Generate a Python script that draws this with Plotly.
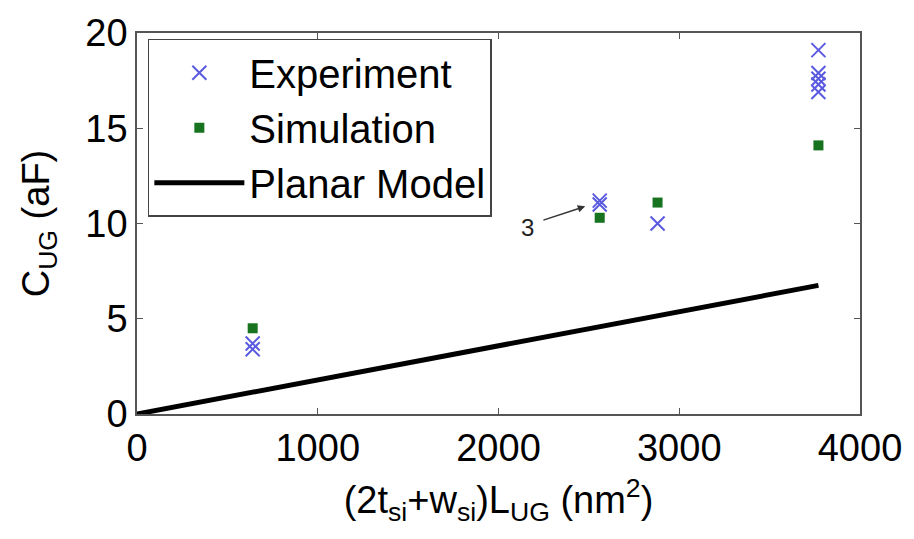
import plotly.graph_objects as go

exp_x = [640, 640, 2560, 2560, 2880, 3770, 3770, 3770, 3770, 3770]
exp_y = [3.7, 3.4, 11.2, 11.0, 10.0, 19.1, 17.9, 17.6, 17.3, 16.9]
sim_x = [640, 2560, 2880, 3770]
sim_y = [4.5, 10.3, 11.1, 14.1]
model_x = [0, 3770]
model_y = [0, 6.75]

x_ticks = [0, 1000, 2000, 3000, 4000]
y_ticks = [0, 5, 10, 15, 20]

font = "Liberation Sans, Arial, sans-serif"

fig = go.Figure()
fig.add_trace(go.Scatter(x=exp_x, y=exp_y, mode="markers", name="Experiment",
                         legendgroup="a",
                         marker=dict(symbol="x-thin", size=14, color="#5a5ae0",
                                     line=dict(width=2, color="#5a5ae0"))))
fig.add_trace(go.Scatter(x=sim_x, y=sim_y, mode="markers", name="Simulation",
                         legendgroup="b",
                         marker=dict(symbol="square", size=10, color="#17731f")))
fig.add_trace(go.Scatter(x=model_x, y=model_y, mode="lines", name="Planar Model",
                         legendgroup="c",
                         line=dict(color="black", width=5)))

fig.add_annotation(x=2480, y=10.9, ax=2240, ay=10.15, xref="x", yref="y",
                   axref="x", ayref="y", text="", showarrow=True,
                   arrowhead=2, arrowsize=1, arrowwidth=1.5, arrowcolor="#333")
fig.add_annotation(x=2160, y=9.8, text="3", showarrow=False,
                   font=dict(size=24, color="#222", family=font))

axis_common = dict(showline=True, linecolor="#555", linewidth=1.5, mirror="ticks",
                   ticks="inside", ticklen=6, tickcolor="#555", showgrid=False,
                   zeroline=False, tickfont=dict(size=38, color="black", family=font))

fig.update_xaxes(range=[0, 4000], tickvals=x_ticks, ticktext=[str(v) for v in x_ticks],
                 title=dict(text="(2t<sub>si</sub>+w<sub>si</sub>)L<sub>UG</sub> (nm<sup>2</sup>)",
                            font=dict(size=38, color="black", family=font), standoff=18),
                 **axis_common)
fig.update_yaxes(range=[0, 20], tickvals=y_ticks, ticktext=[str(v) for v in y_ticks],
                 title=dict(text="C<sub>UG</sub> (aF)",
                            font=dict(size=38, color="black", family=font), standoff=24),
                 **axis_common)

fig.update_layout(
    width=914, height=539,
    margin=dict(l=137, r=44, t=22, b=125),
    plot_bgcolor="white", paper_bgcolor="white",
    showlegend=True,
    legend=dict(x=0.015, y=0.985, xanchor="left", yanchor="top",
                bgcolor="white", bordercolor="#444", borderwidth=1.5,
                font=dict(size=40, color="black", family=font),
                tracegroupgap=0, itemwidth=90),
)

fig.write_html("out.html")
